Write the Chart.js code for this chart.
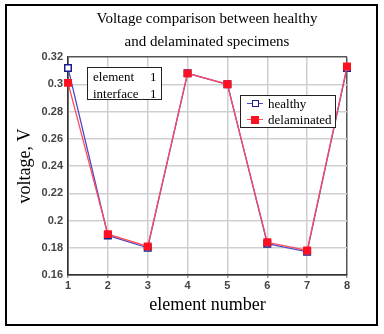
<!DOCTYPE html>
<html><head><meta charset="utf-8">
<script src="https://cdn.jsdelivr.net/npm/chart.js@4.4.1/dist/chart.umd.min.js"></script>
<style>
html,body{margin:0;padding:0;background:#fff;}
#wrap{position:relative;width:384px;height:334px;overflow:hidden;background:#fff;}
#c{position:absolute;left:0;top:0;}
#frame{position:absolute;left:5px;top:4px;width:373px;height:322px;border:2px solid #000;box-sizing:border-box;pointer-events:none;}
#title{position:absolute;left:0;top:7px;width:414px;text-align:center;font:15px "Liberation Serif","Times New Roman",serif;line-height:23px;color:#000;}
.box{position:absolute;background:#fff;border:1px solid #222;box-sizing:border-box;font:13px "Liberation Serif","Times New Roman",serif;color:#000;}
#note{left:87px;top:67px;width:75px;height:33px;}
#note div{position:absolute;left:5px;line-height:17px;}
#note span{position:absolute;left:57px;}
#legend{left:240px;top:95px;width:96px;height:33px;}
.item{position:absolute;left:0;height:16px;width:94px;}
.item .ln{position:absolute;left:6px;width:16px;top:7px;height:1px;}
.item .mk{position:absolute;box-sizing:border-box;}
.item .tx{position:absolute;left:27px;top:0;line-height:16px;}
</style></head>
<body><div id="wrap">
<canvas id="c" width="384" height="334"></canvas>
<div id="title">Voltage comparison between healthy<br>and delaminated specimens</div>
<div id="note" class="box"></div>
<div id="legend" class="box"></div>
<div id="frame"></div>
</div>
<script>
const categories = ['1','2','3','4','5','6','7','8'];
const healthy = [0.312, 0.189, 0.180, 0.308, 0.300, 0.183, 0.177, 0.312];
const delaminated = [0.301, 0.190, 0.181, 0.308, 0.300, 0.184, 0.178, 0.313];
const seriesNames = ['healthy', 'delaminated'];
const yTickValues = [0.16, 0.18, 0.2, 0.22, 0.24, 0.26, 0.28, 0.3, 0.32];
const yTickLabels = ['0.16', '0.18', '0.2', '0.22', '0.24', '0.26', '0.28', '0.3', '0.32'];
const noteRows = [['element', '1'], ['interface', '1']];
const titleText = 'Voltage comparison between healthy and delaminated specimens';
const xTitle = 'element number';
const yTitle = 'voltage, V';

const blueLine = '#4b4bc8', blueMark = '#1c1c8a';
const redLine = '#ff4a5c', redMark = '#ff1020';

// annotation box
const note = document.getElementById('note');
noteRows.forEach((r, i) => {
  const d = document.createElement('div');
  d.style.top = (i * 17 + 0) + 'px';
  d.innerHTML = r[0] + '<span>' + r[1] + '</span>';
  note.appendChild(d);
});

// legend
const legendStyles = [
  {line: blueLine, fill: '#fff', border: blueMark, size: 7, bw: 1.5},
  {line: redLine, fill: redMark, border: redMark, size: 8, bw: 0}
];
const legend = document.getElementById('legend');
seriesNames.forEach((name, i) => {
  const s = legendStyles[i];
  const it = document.createElement('div');
  it.className = 'item';
  it.style.top = (i * 16 + 0) + 'px';
  const ln = document.createElement('div'); ln.className = 'ln'; ln.style.background = s.line;
  const mk = document.createElement('div'); mk.className = 'mk';
  mk.style.width = s.size + 'px'; mk.style.height = s.size + 'px';
  mk.style.left = (14 - s.size / 2) + 'px'; mk.style.top = (7.5 - s.size / 2) + 'px';
  mk.style.background = s.fill; mk.style.border = s.bw + 'px solid ' + s.border;
  const tx = document.createElement('div'); tx.className = 'tx'; tx.textContent = name;
  it.appendChild(ln); it.appendChild(mk); it.appendChild(tx);
  legend.appendChild(it);
});

const edgeGrid = (ctx, last) => (ctx.index === 0 || ctx.index === last) ? '#555' : '#cfcfcf';

new Chart(document.getElementById('c'), {
  type: 'line',
  data: {
    labels: categories,
    datasets: [
      {label: seriesNames[0], data: healthy, borderColor: blueLine, borderWidth: 1.3,
       pointStyle: 'rect', pointRadius: 4.6, pointBorderWidth: 1.5,
       pointBackgroundColor: '#fff', pointBorderColor: blueMark, order: 2, tension: 0},
      {label: seriesNames[1], data: delaminated, borderColor: redLine, borderWidth: 1.3,
       pointStyle: 'rect', pointRadius: 5.6, pointBorderWidth: 0,
       pointBackgroundColor: redMark, pointBorderColor: redMark, order: 1, tension: 0}
    ]
  },
  options: {
    responsive: false, animation: false, devicePixelRatio: 1,
    layout: {padding: {left: 0, top: 57, right: 37, bottom: 0}},
    plugins: {legend: {display: false}, title: {display: false}, tooltip: {enabled: false}},
    scales: {
      x: {
        type: 'category', offset: false,
        grid: {color: (c) => edgeGrid(c, categories.length - 1), lineWidth: 1.5, drawTicks: true, tickLength: 3, tickColor: '#999'},
        border: {color: '#333', width: 1.5},
        ticks: {color: '#444', font: {family: '"Liberation Sans", Arial, sans-serif', size: 11, weight: 'bold'}, padding: 1, maxRotation: 0, autoSkip: false},
        title: {display: true, text: xTitle, color: '#000', font: {family: '"Liberation Serif","Times New Roman",serif', size: 18}, padding: 18},
        afterFit: (s) => { s.height = 59; }
      },
      y: {
        min: 0.16, max: 0.32,
        afterBuildTicks: (s) => { s.ticks = yTickValues.map(v => ({value: v})); },
        grid: {color: (c) => edgeGrid(c, yTickValues.length - 1), lineWidth: 1.5, drawTicks: false},
        border: {color: '#333', width: 1.5},
        ticks: {color: '#444', font: {family: '"Liberation Sans", Arial, sans-serif', size: 11, weight: 'bold'}, padding: 5,
                callback: (v, i) => yTickLabels[i]},
        title: {display: true, text: yTitle, color: '#000', font: {family: '"Liberation Serif","Times New Roman",serif', size: 18}, padding: 14},
        afterFit: (s) => { s.width = 68; }
      }
    }
  }
});
</script>
</body></html>
